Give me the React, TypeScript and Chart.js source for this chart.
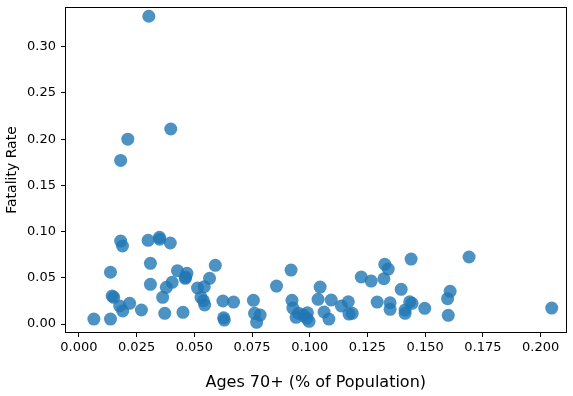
import React, { useEffect, useRef } from "react";
import { Chart, registerables } from "chart.js";

Chart.register(...registerables);

const agesOver70: number[] = [
  0.0303, 0.0212, 0.0398, 0.0181, 0.0181, 0.0189, 0.0300, 0.0349, 0.0350, 0.0396,
  0.0137, 0.0310, 0.0427, 0.0468, 0.0462, 0.0461, 0.0591, 0.0566, 0.0310, 0.0404,
  0.0379, 0.0363, 0.0144, 0.0151, 0.0220, 0.0177, 0.0190, 0.0271, 0.0372, 0.0451,
  0.0065, 0.0137, 0.0514, 0.0543, 0.0529, 0.0540, 0.0545, 0.0624, 0.0670, 0.0756,
  0.0627, 0.0630, 0.0761, 0.0785, 0.0770, 0.0856, 0.0919, 0.0923, 0.0927, 0.0951,
  0.0941, 0.0972, 0.0990, 0.0987, 0.0997, 0.1045, 0.1036, 0.1093, 0.1062, 0.1083,
  0.1137, 0.1167, 0.1170, 0.1184, 0.1223, 0.1266, 0.1292, 0.1321, 0.1325, 0.1340,
  0.1348, 0.1348, 0.1396, 0.1413, 0.1413, 0.1433, 0.1443, 0.1439, 0.1498, 0.1597,
  0.1608, 0.1600, 0.1690, 0.2048,
];

const fatalityRate: number[] = [
  0.333, 0.200, 0.211, 0.177, 0.0898, 0.0844, 0.0906, 0.0938, 0.0917, 0.0877,
  0.0560, 0.0657, 0.0577, 0.0549, 0.0505, 0.0494, 0.0635, 0.0494, 0.0430, 0.0451,
  0.0397, 0.0289, 0.0303, 0.0289, 0.0224, 0.0195, 0.0141, 0.0152, 0.0116, 0.0127,
  0.0054, 0.0054, 0.0390, 0.0404, 0.0289, 0.0252, 0.0206, 0.0249, 0.0238, 0.0256,
  0.0068, 0.0043, 0.0116, 0.0097, 0.0018, 0.0411, 0.0584, 0.0256, 0.0173, 0.0116,
  0.0073, 0.0097, 0.0122, 0.0062, 0.0029, 0.0400, 0.0267, 0.0260, 0.0130, 0.0054,
  0.0195, 0.0241, 0.0108, 0.0116, 0.0509, 0.0465, 0.0238, 0.0490, 0.0646, 0.0595,
  0.0230, 0.0159, 0.0375, 0.0152, 0.0116, 0.0241, 0.0224, 0.0703, 0.0170, 0.0274,
  0.0354, 0.0094, 0.0725, 0.0173,
];

const xTicks: number[] = [0, 0.025, 0.05, 0.075, 0.1, 0.125, 0.15, 0.175, 0.2];
const yTicks: number[] = [0, 0.05, 0.1, 0.15, 0.2, 0.25, 0.3];

const xLabel = "Ages 70+ (% of Population)";
const yLabel = "Fatality Rate";

const FONT = "'DejaVu Sans', sans-serif";

const frame = {
  id: "frame",
  afterDraw(chart: any) {
    const { ctx, chartArea } = chart;
    ctx.save();
    ctx.strokeStyle = "#000";
    ctx.lineWidth = 1;
    ctx.strokeRect(
      Math.round(chartArea.left) + 0.5,
      Math.round(chartArea.top) + 0.5,
      Math.round(chartArea.right - chartArea.left) - 1,
      Math.round(chartArea.bottom - chartArea.top) - 1
    );
    ctx.restore();
  },
};

export default function App() {
  const ref = useRef<HTMLCanvasElement | null>(null);

  useEffect(() => {
    if (!ref.current) return;
    const points = agesOver70.map((x, i) => ({ x, y: fatalityRate[i] }));
    const chart = new Chart(ref.current, {
      type: "scatter",
      data: {
        datasets: [
          {
            data: points,
            backgroundColor: "rgba(31,119,180,0.8)",
            borderWidth: 0,
            pointRadius: 6.5,
            pointHoverRadius: 6.5,
          },
        ],
      },
      plugins: [frame],
      options: {
        animation: false,
        responsive: false,
        devicePixelRatio: 1,
        layout: { padding: { top: 7, right: 6, left: 0, bottom: 0 } },
        plugins: {
          legend: { display: false },
          tooltip: { enabled: false },
        },
        scales: {
          x: {
            type: "linear",
            min: -0.006,
            max: 0.2112,
            afterBuildTicks: (scale: any) => {
              scale.ticks = xTicks.map((v) => ({ value: v }));
            },
            afterFit: (scale: any) => {
              scale.height = 63;
              scale.paddingLeft = 0;
              scale.paddingRight = 0;
            },
            grid: {
              drawOnChartArea: false,
              drawTicks: true,
              tickLength: 4,
              color: "#000",
            },
            border: { display: false },
            ticks: {
              color: "#000",
              font: { family: FONT, size: 13 },
              padding: 3,
              maxRotation: 0,
              autoSkip: false,
              callback: (v: any) => Number(v).toFixed(3),
            },
            title: {
              display: true,
              text: xLabel,
              color: "#000",
              font: { family: FONT, size: 16 },
              padding: { top: 0, bottom: 4 },
            },
          },
          y: {
            type: "linear",
            min: -0.0097,
            max: 0.343,
            afterBuildTicks: (scale: any) => {
              scale.ticks = yTicks.map((v) => ({ value: v }));
            },
            afterFit: (scale: any) => {
              scale.width = 65;
              scale.paddingTop = 0;
              scale.paddingBottom = 0;
            },
            grid: {
              drawOnChartArea: false,
              drawTicks: true,
              tickLength: 4,
              color: "#000",
            },
            border: { display: false },
            ticks: {
              color: "#000",
              font: { family: FONT, size: 13 },
              padding: 5,
              autoSkip: false,
              callback: (v: any) => Number(v).toFixed(2),
            },
            title: {
              display: true,
              text: yLabel,
              color: "#000",
              font: { family: FONT, size: 14 },
              padding: { top: 4, bottom: 0 },
            },
          },
        },
      },
    });
    return () => chart.destroy();
  }, []);

  return (
    <div style={{ position: "fixed", left: 0, top: 0, width: 573, height: 396, background: "#fff" }}>
      <canvas ref={ref} width={573} height={396} style={{ width: 573, height: 396 }} />
    </div>
  );
}
